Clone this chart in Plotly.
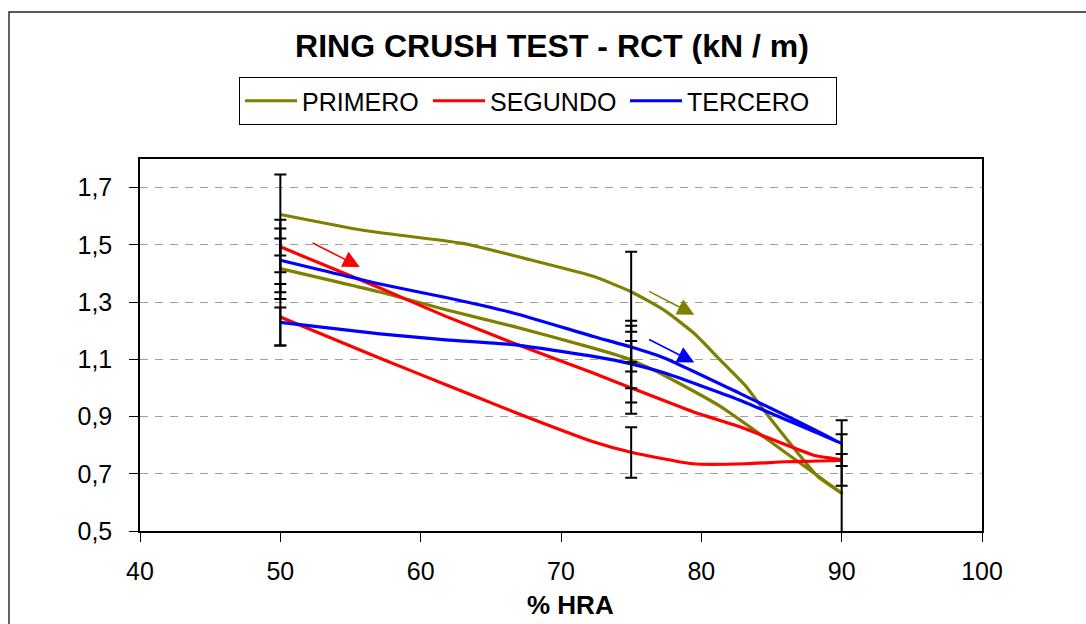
import plotly.graph_objects as go

# ---------------- data ----------------
X_TICKS = [40, 50, 60, 70, 80, 90, 100]
Y_TICKS = [0.5, 0.7, 0.9, 1.1, 1.3, 1.5, 1.7]

SERIES_NAMES = ["PRIMERO", "SEGUNDO", "TERCERO"]
SERIES_COLORS = ["#808000", "#FF0000", "#0000FF"]
LEGEND_WIDTHS = [121, 130, 144]

# PRIMERO: outgoing branch (50 -> 90) and returning branch (90 -> 50)
PRIMERO_UP_X = [50, 56, 63, 67.8, 72.3, 75, 77.4, 79.5, 81.3, 83.1, 84.8, 86.5, 88.3, 90]
PRIMERO_UP_Y = [1.606, 1.55, 1.505, 1.448, 1.39, 1.336, 1.27, 1.19, 1.10, 1.01, 0.90, 0.795, 0.69, 0.632]
PRIMERO_DN_X = [90, 81.3, 77.5, 75, 72.3, 66.6, 61.8, 57.1, 50]
PRIMERO_DN_Y = [0.632, 0.937, 1.04, 1.098, 1.139, 1.215, 1.273, 1.335, 1.417]

# SEGUNDO
SEGUNDO_UP_X = [50, 57.1, 61.8, 66.6, 72.3, 75, 79.4, 82.7, 88, 90]
SEGUNDO_UP_Y = [1.493, 1.349, 1.25, 1.157, 1.052, 1.0, 0.917, 0.865, 0.765, 0.748]
SEGUNDO_DN_X = [90, 86, 83.2, 79.4, 75, 72.3, 66.6, 61.8, 57.1, 50]
SEGUNDO_DN_Y = [0.748, 0.742, 0.735, 0.735, 0.775, 0.812, 0.917, 1.011, 1.104, 1.248]

# TERCERO
TERCERO_UP_X = [50, 57.1, 61.8, 66.6, 72.3, 75, 77.4, 82.7, 90]
TERCERO_UP_Y = [1.446, 1.363, 1.316, 1.262, 1.180, 1.143, 1.104, 0.982, 0.807]
TERCERO_DN_X = [90, 82.7, 77.4, 75, 72.3, 66.6, 61.8, 57.1, 50]
TERCERO_DN_Y = [0.807, 0.958, 1.052, 1.084, 1.110, 1.151, 1.168, 1.189, 1.229]

# error bars at the measured humidities (outgoing 50,75,90 ; returning 75,50)
ERR_POINTS_UP = [50, 75, 90]
ERR_POINTS_DN = [75, 50]
PRIMERO_ERR_PLUS = [0.140, 0.140, 0.137, 0.119, 0.105]
PRIMERO_ERR_MINUS = [0.143, 0.140, 0.137, 0.099, 0.106]
SEGUNDO_ERR_PLUS = [0.095, 0.090, 0.090, 0.088, 0.115]
SEGUNDO_ERR_MINUS = [0.089, 0.090, 0.090, 0.089, 0.100]
TERCERO_ERR_PLUS = [0.111, 0.092, 0.080, 0.080, 0.052]
TERCERO_ERR_MINUS = [0.112, 0.086, 0.080, 0.135, 0.081]

# direction arrows: (tail x, tail y, tip x, tip y)
ARROW_RED = (52.2, 1.509, 55.66, 1.423)
ARROW_OLIVE = (76.17, 1.340, 79.5, 1.256)
ARROW_BLUE = (76.17, 1.172, 79.5, 1.089)

TITLE = "RING CRUSH TEST - RCT (kN / m)"
X_TITLE = "% HRA"

# ---------------- figure ----------------
FONT = "Liberation Sans, Arial, sans-serif"

series = [
    (PRIMERO_UP_X, PRIMERO_UP_Y, PRIMERO_DN_X, PRIMERO_DN_Y, PRIMERO_ERR_PLUS, PRIMERO_ERR_MINUS),
    (SEGUNDO_UP_X, SEGUNDO_UP_Y, SEGUNDO_DN_X, SEGUNDO_DN_Y, SEGUNDO_ERR_PLUS, SEGUNDO_ERR_MINUS),
    (TERCERO_UP_X, TERCERO_UP_Y, TERCERO_DN_X, TERCERO_DN_Y, TERCERO_ERR_PLUS, TERCERO_ERR_MINUS),
]

fig = go.Figure()

for name, color, lw, (ux, uy, dx, dy, ep, em) in zip(SERIES_NAMES, SERIES_COLORS, LEGEND_WIDTHS, series):
    fig.add_trace(go.Scatter(
        x=ux + dx[1:], y=uy + dy[1:], mode="lines", name=name,
        line=dict(color=color, width=3.2, shape="spline", smoothing=0.5),
        legendwidth=lw,
    ))

for name, color, (ux, uy, dx, dy, ep, em) in zip(SERIES_NAMES, SERIES_COLORS, series):
    ex = ERR_POINTS_UP + ERR_POINTS_DN
    ey = [uy[ux.index(v)] for v in ERR_POINTS_UP] + [dy[dx.index(v)] for v in ERR_POINTS_DN]
    fig.add_trace(go.Scatter(
        x=ex, y=ey, mode="markers", showlegend=False, hoverinfo="skip",
        marker=dict(size=1, color="rgba(0,0,0,0)"),
        error_y=dict(type="data", symmetric=False, array=ep, arrayminus=em,
                     color="black", thickness=2, width=6),
    ))

for (tx, ty, hx, hy), color in zip([ARROW_RED, ARROW_OLIVE, ARROW_BLUE],
                                   ["#FF0000", "#808000", "#0000FF"]):
    fig.add_annotation(
        x=hx, y=hy, ax=tx, ay=ty, xref="x", yref="y", axref="x", ayref="y",
        text="", showarrow=True, arrowhead=2, arrowsize=2.1, arrowwidth=1.6,
        arrowcolor=color, standoff=0,
    )

# outer chart frame (extends beyond the visible window on right/bottom)
fig.add_shape(type="rect", xref="paper", yref="paper",
              x0=(9 - 140) / 842, x1=(1095 - 140) / 842,
              y0=(531 - 640) / 372, y1=(531 - 12) / 372,
              line=dict(color="#222222", width=1.4), fillcolor="rgba(0,0,0,0)", layer="below")

fig.add_annotation(text="<b>" + X_TITLE + "</b>", xref="paper", yref="paper",
                   x=(570 - 140) / 842, y=(531 - 605) / 372, showarrow=False,
                   font=dict(family=FONT, size=26, color="black"),
                   xanchor="center", yanchor="middle")

fig.update_layout(
    width=1086, height=624,
    margin=dict(l=140, r=104, t=159, b=93),
    paper_bgcolor="white", plot_bgcolor="white",
    separators=",.",
    font=dict(family=FONT, color="black", size=25),
    title=dict(text="<b>" + TITLE + "</b>", x=(552 - 140) / 842, xref="paper",
               xanchor="center", y=1 - 46 / 624, yref="container", yanchor="middle",
               font=dict(family=FONT, size=32, color="black")),
    showlegend=True,
    legend=dict(orientation="h", x=(239 - 140) / 842, xanchor="left",
                y=(531 - 77) / 372, yanchor="top",
                bordercolor="black", borderwidth=1, bgcolor="white",
                font=dict(family=FONT, size=25, color="black"),
                itemwidth=52, tracegroupgap=0),
    xaxis=dict(range=[40, 100], tickvals=X_TICKS, ticks="outside", ticklen=9,
               tickcolor="black", showline=True, linecolor="black", linewidth=1.5,
               mirror=True, showgrid=False, zeroline=False, ticklabelstandoff=8,
               tickfont=dict(family=FONT, size=25, color="black")),
    yaxis=dict(range=[0.5, 1.8], tickvals=Y_TICKS, tickformat=".1f", ticks="outside",
               ticklen=9, tickcolor="black", showline=True, linecolor="black",
               linewidth=1.5, mirror=True, showgrid=True, gridcolor="#A0A0A0",
               griddash="8px,7px", gridwidth=1, zeroline=False,
               ticklabelstandoff=12,
               tickfont=dict(family=FONT, size=25, color="black")),
)

fig.write_html("out.html", config={"displayModeBar": False},
               post_script="document.body.style.margin='0';")
